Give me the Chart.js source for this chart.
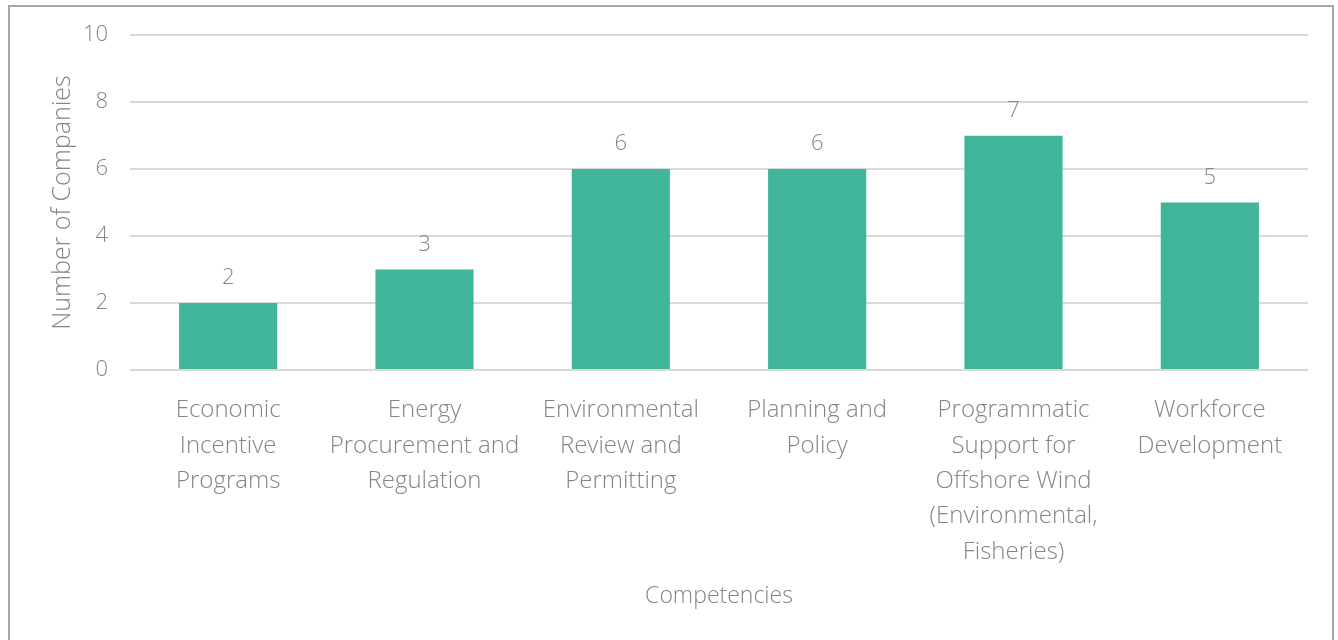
<!DOCTYPE html>
<html>
<head>
<meta charset="utf-8">
<script src="https://cdn.jsdelivr.net/npm/chart.js@4"></script>
<style>
  html, body { margin: 0; padding: 0; background: #fff; overflow: hidden; }
  #wrap { position: relative; width: 1338px; height: 640px; }
  #frame {
    position: absolute; left: 8px; top: 5px; width: 1326px; height: 700px;
    border: 2px solid #a5a7aa; box-sizing: border-box; pointer-events: none;
  }
  canvas { position: absolute; left: 0; top: 0; }
</style>
</head>
<body>
<div id="wrap">
  <canvas id="chart" width="1338" height="640"></canvas>
  <div id="frame"></div>
</div>
<script>
// competencies and company counts
const competencies = [
  ['Economic', 'Incentive', 'Programs'],
  ['Energy', 'Procurement and', 'Regulation'],
  ['Environmental', 'Review and', 'Permitting'],
  ['Planning and', 'Policy'],
  ['Programmatic', 'Support for', 'Offshore Wind', '(Environmental,', 'Fisheries)'],
  ['Workforce', 'Development']
];
const companyCounts = [2, 3, 6, 6, 7, 5];
const yTicks = [0, 2, 4, 6, 8, 10];

const fontFamily = "'Open Sans', 'Segoe UI', sans-serif";
const textGrey = '#858585';

// value printed above each bar
const barValues = {
  id: 'barValues',
  afterDatasetsDraw(chart) {
    const ctx = chart.ctx;
    const meta = chart.getDatasetMeta(0);
    ctx.save();
    ctx.font = '300 22px ' + fontFamily;
    ctx.fillStyle = textGrey;
    ctx.textAlign = 'center';
    ctx.textBaseline = 'middle';
    meta.data.forEach(function(bar, i) {
      ctx.fillText(String(companyCounts[i]), bar.x, bar.y - 25);
    });
    ctx.restore();
  }
};

new Chart(document.getElementById('chart'), {
  type: 'bar',
  plugins: [barValues],
  data: {
    labels: competencies,
    datasets: [{
      data: companyCounts,
      backgroundColor: '#40b59a',
      borderWidth: 0,
      barPercentage: 0.5,
      categoryPercentage: 1.0
    }]
  },
  options: {
    responsive: false,
    animation: false,
    layout: { padding: { left: 48, right: 30, top: 34, bottom: 26 } },
    plugins: {
      legend: { display: false },
      tooltip: { enabled: false }
    },
    scales: {
      x: {
        grid: { display: false, drawTicks: false },
        border: { display: false },
        ticks: {
          color: textGrey,
          padding: 23,
          maxRotation: 0,
          autoSkip: false,
          font: { family: fontFamily, size: 24, weight: '300', lineHeight: 1.47 }
        },
        title: {
          display: true,
          text: 'Competencies',
          color: textGrey,
          font: { family: fontFamily, size: 23, weight: '300' }
        },
        afterFit(scale) { scale.height = 640 - 370 - 26; }
      },
      y: {
        min: 0,
        max: 10,
        afterBuildTicks(scale) { scale.ticks = yTicks.map(v => ({ value: v })); },
        grid: { color: '#d9d9d9', lineWidth: 2, drawTicks: false },
        border: { display: false },
        ticks: {
          color: textGrey,
          padding: 22,
          font: { family: fontFamily, size: 22, weight: '300' }
        },
        title: {
          display: true,
          text: 'Number of Companies',
          color: textGrey,
          padding: { top: 0, bottom: 4 },
          font: { family: fontFamily, size: 25, weight: '300' }
        },
        afterFit(scale) { scale.width = 130 - 48; }
      }
    }
  }
});
</script>
</body>
</html>
